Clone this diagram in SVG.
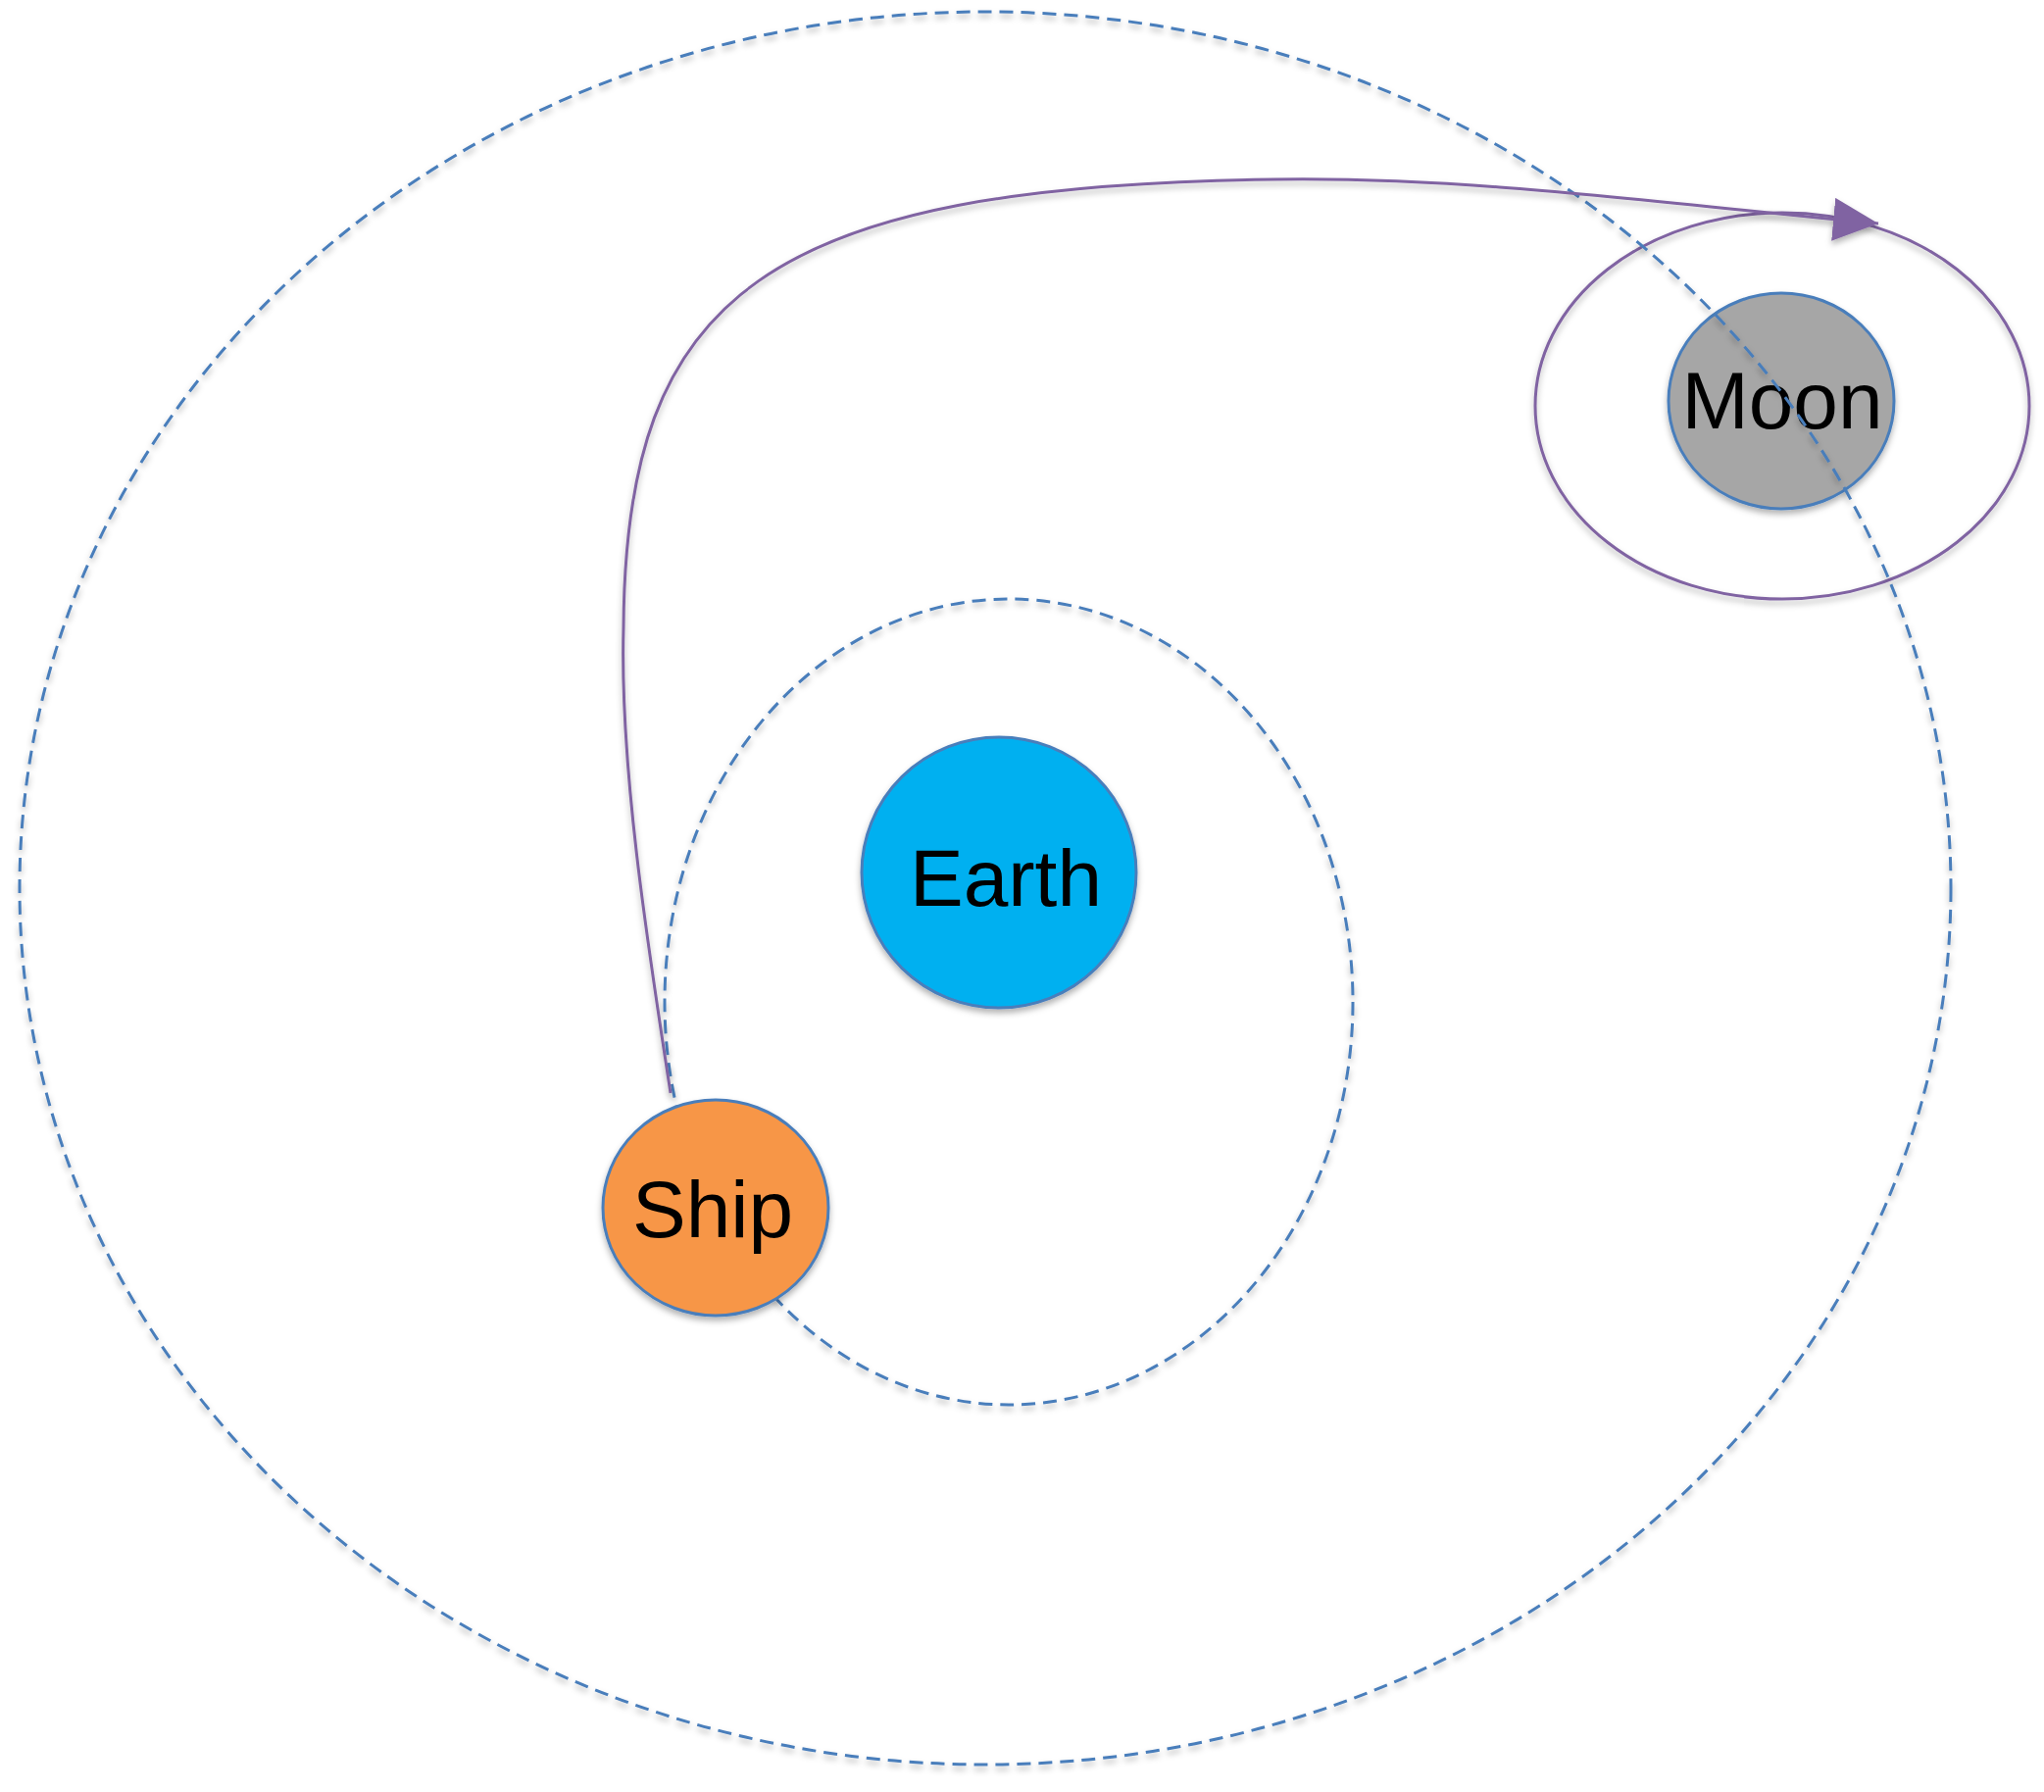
<svg xmlns="http://www.w3.org/2000/svg" width="2085" height="1828" viewBox="0 0 2085 1828">
  <defs>
    <filter id="shadow" x="-10%" y="-10%" width="120%" height="125%">
      <feDropShadow dx="0" dy="4" stdDeviation="3" flood-color="#000000" flood-opacity="0.3"/>
    </filter>
    <marker id="arrow" markerUnits="userSpaceOnUse" viewBox="0 0 46 44" refX="46" refY="22" markerWidth="46" markerHeight="44" orient="auto">
      <path d="M0 0 L46 22 L0 44 z" fill="#8064A2"/>
    </marker>
    <style>
      .orbit { fill: none; stroke: #4A7EBB; stroke-width: 3; stroke-dasharray: 14 8; filter: url(#shadow); }
      .node { stroke: #4A7EBB; stroke-width: 3; filter: url(#shadow); }
      .label { font-family: "Liberation Sans", Arial, sans-serif; font-size: 82px; fill: #000000; text-anchor: middle; }
      .path { fill: none; stroke: #8064A2; stroke-width: 3; filter: url(#shadow); }
    </style>
  </defs>
  <rect width="2085" height="1828" fill="#FFFFFF"/>

  <g id="inner-orbit">
    <ellipse class="orbit" cx="1029" cy="1022" rx="351" ry="411"/>
  </g>

  <g id="moon-orbit">
    <ellipse class="path" cx="1818" cy="414" rx="252" ry="197"/>
  </g>

  <g id="earth">
    <ellipse class="node" cx="1019" cy="890" rx="140" ry="138" fill="#00B0F0"/>
    <text class="label" x="1026" y="924">Earth</text>
  </g>

  <g id="ship">
    <ellipse class="node" cx="730" cy="1232" rx="115" ry="110" fill="#F79646"/>
    <text class="label" x="727" y="1262">Ship</text>
  </g>

  <g id="moon">
    <ellipse class="node" cx="1817" cy="409" rx="115" ry="110" fill="#A6A6A6"/>
    <text class="label" x="1818" y="437">Moon</text>
  </g>

  <g id="outer-orbit">
    <ellipse class="orbit" cx="1005" cy="906" rx="985" ry="894"/>
  </g>

  <g id="connectors">
    <path class="path" d="M684 1115 C660 960 632 780 636 640 C638 300 780 190 1300 183 C1500 180 1700 208 1916 228" marker-end="url(#arrow)"/>
  </g>
</svg>
